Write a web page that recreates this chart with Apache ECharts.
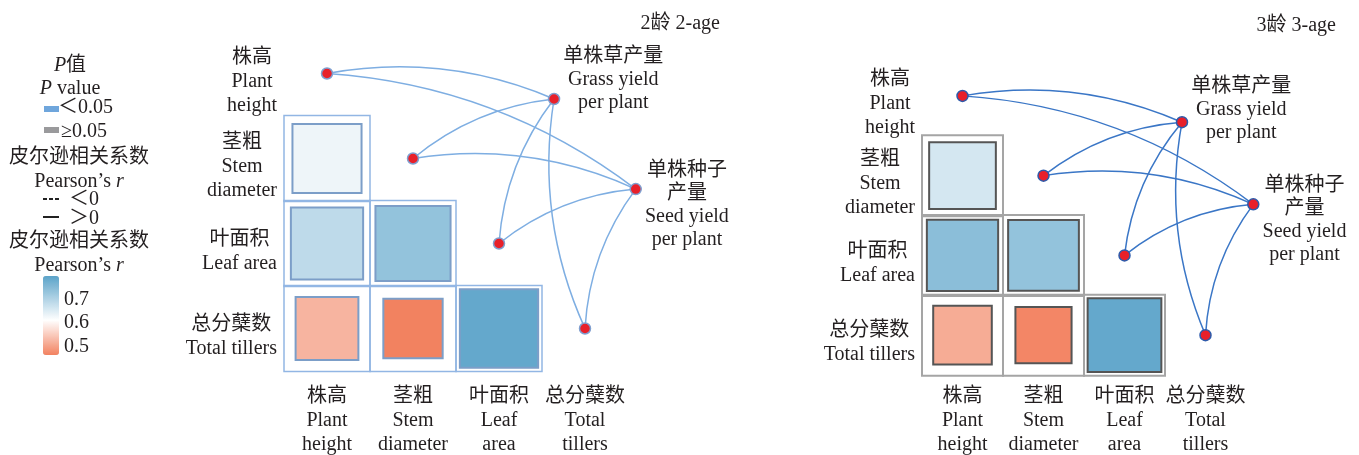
<!DOCTYPE html>
<html><head><meta charset="utf-8">
<script src="https://cdn.jsdelivr.net/npm/echarts/dist/echarts.min.js"></script>
<style>html,body{margin:0;padding:0;background:#fff}#c{width:1359px;height:455px}</style>
</head><body><div id="c"></div>
<script>
// ---- data ----
const rowLabels = ['株高\nPlant\nheight', '茎粗\nStem\ndiameter', '叶面积\nLeaf area', '总分蘖数\nTotal tillers'];
const colLabels = ['株高\nPlant\nheight', '茎粗\nStem\ndiameter', '叶面积\nLeaf\narea', '总分蘖数\nTotal\ntillers'];
const yieldLabels = ['单株草产量\nGrass yield\nper plant', '单株种子\n产量\nSeed yield\nper plant'];
const cellPairs = [[0, 1], [0, 2], [1, 2], [0, 3], [1, 3], [2, 3]]; // [column, row]
const r2age = [0.62, 0.675, 0.725, 0.51, 0.45, 0.78];
const r3age = [0.65, 0.735, 0.725, 0.50, 0.455, 0.78];
const yieldNodes2age = [[2.64, 0.30], [3.59, 1.36]];
const yieldNodes3age = [[2.71, 0.33], [3.59, 1.36]];
const colorTicks = [0.7, 0.6, 0.5];
const panelTitles = ['2龄 2-age', '3龄 3-age'];
const legendPLabels = ['＜0.05', '≥0.05'];
const legendRLabels = ['＜0', '＞0'];

// ---- styling ----
const FONT = '"Liberation Serif","Noto Sans CJK SC",serif';
const TXT = '#231f20';
const cMin = 0.45, cMax = 0.79, cMid = 0.6;
const RED = [242, 130, 96], WHITE = [255, 255, 255], BLUE = [91, 163, 201];
function mix(a, b, t) { return 'rgb(' + a.map((v, i) => Math.round(v + (b[i] - v) * t)).join(',') + ')'; }
const stops = [];
for (let i = 0; i <= 34; i++) {
  const v = cMin + (cMax - cMin) * i / 34;
  stops.push(v <= cMid ? mix(RED, WHITE, (v - cMin) / (cMid - cMin)) : mix(WHITE, BLUE, (v - cMid) / (cMax - cMid)));
}
const panels = [
  {left: 284, top: 31, size: 344, outer: '#92b6e4', outerW: 1.5, inner: '#7c9ec8', link: '#7eaee2', nodeBorder: '#7f9fd0', r: r2age, yn: yieldNodes2age, lblOff: [[0, -19], [0, 16]], xm: 14},
  {left: 922, top: 56, size: 324, outer: '#a5a5a5', outerW: 2, inner: '#555555', link: '#3a76c6', nodeBorder: '#2d5bab', r: r3age, yn: yieldNodes3age, lblOff: [[0, -12], [0, 16]], xm: 10}
];
function richLines(s) { return s.split('\n').map(t => '{c|' + t + '}').join('\n'); }
const richC = {c: {align: 'center', fontSize: 20, lineHeight: 24, fontFamily: FONT, color: TXT}};
const richY = {c: {align: 'center', fontSize: 20, lineHeight: 23, fontFamily: FONT, color: TXT}};

const grid = [], xAxis = [], yAxis = [], series = [];
panels.forEach((p, k) => {
  grid.push({left: p.left, top: p.top, width: p.size, height: p.size});
  xAxis.push({type: 'value', gridIndex: k, min: -0.5, max: 3.5, splitLine: {show: false}, axisLine: {show: false}, axisTick: {show: false},
    axisLabel: {customValues: [0, 1, 2, 3], margin: p.xm, formatter: v => richLines(colLabels[v]), rich: richC}});
  yAxis.push({type: 'value', gridIndex: k, min: -0.5, max: 3.5, inverse: true, splitLine: {show: false}, axisLine: {show: false}, axisTick: {show: false},
    axisLabel: {customValues: [0, 1, 2, 3], margin: 7, padding: [16, 0, 0, 0], formatter: v => richLines(rowLabels[v]), rich: richC}});
  const cell = p.size / 4;
  series.push({type: 'scatter', xAxisIndex: k, yAxisIndex: k, symbol: 'rect', symbolSize: cell, silent: true,
    itemStyle: {color: 'rgba(255,255,255,0)', borderColor: p.outer, borderWidth: p.outerW, opacity: 1},
    data: cellPairs.map(c => [c[0], c[1]]), z: 1});
  series.push({type: 'scatter', xAxisIndex: k, yAxisIndex: k, symbol: 'rect', silent: true,
    symbolSize: v => cell * (0.69 + 0.667 * (v[2] - 0.45)),
    itemStyle: {borderColor: p.inner, borderWidth: 2, opacity: 1},
    data: cellPairs.map((c, i) => [c[0], c[1], p.r[i]]), z: 2});
  const nodes = [0, 1, 2, 3].map(i => ({name: 'v' + i, value: [i, i]}));
  p.yn.forEach((pt, j) => nodes.push({name: 'y' + j, value: pt,
    label: {show: true, position: 'right', distance: 3, offset: p.lblOff[j], formatter: richLines(yieldLabels[j]), rich: richY}}));
  const links = [];
  [0, 1, 2, 3].forEach(i => { links.push({source: 'v' + i, target: 'y0'}); links.push({source: 'v' + i, target: 'y1'}); });
  series.push({type: 'graph', coordinateSystem: 'cartesian2d', xAxisIndex: k, yAxisIndex: k, layout: 'none', silent: true,
    symbolSize: 11, itemStyle: {color: '#e8202a', borderColor: p.nodeBorder, borderWidth: 1.5},
    lineStyle: {color: p.link, width: 1.5, opacity: 1, curveness: 0.15},
    label: {show: false}, data: nodes, links: links, z: 5});
});

// legend graphics
const lx = 79, dy = 3;
function T(text, x, y, align) {
  return {type: 'text', x: x, y: y + dy, silent: true,
    style: {text: text, font: '20px ' + FONT, fill: TXT, textAlign: align || 'center', textVerticalAlign: 'middle',
      rich: {i: {fontStyle: 'italic', fontSize: 20, fontFamily: FONT, color: TXT}}}};
}
const graphic = [
  T('{i|P}值', 70, 63), T('{i|P} value', 70, 86),
  {type: 'rect', shape: {x: 44, y: 106, width: 15, height: 6}, style: {fill: '#6fa6dc'}},
  T(legendPLabels[0], 58, 105, 'left'),
  {type: 'rect', shape: {x: 44, y: 127, width: 15, height: 6}, style: {fill: '#9a9a9c'}},
  T(legendPLabels[1], 61, 129, 'left'),
  T('皮尔逊相关系数', lx, 155), T('Pearson’s {i|r}', lx, 179),
  {type: 'line', shape: {x1: 43, y1: 199, x2: 59, y2: 199}, style: {stroke: '#222', lineWidth: 2, lineDash: [4, 2]}},
  T(legendRLabels[0], 69, 197, 'left'),
  {type: 'line', shape: {x1: 43, y1: 217, x2: 59, y2: 217}, style: {stroke: '#222', lineWidth: 2}},
  T(legendRLabels[1], 69, 216, 'left'),
  T('皮尔逊相关系数', lx, 239), T('Pearson’s {i|r}', lx, 263)
];
const barTop = 276, barH = 79;
colorTicks.forEach(v => graphic.push(T(String(v), 64, barTop + (cMax - v) / (cMax - cMin) * barH, 'left')));

const option = {
  animation: false,
  title: [
    {text: panelTitles[0], right: 1359 - 720 - 5, top: 9, textStyle: {fontFamily: FONT, fontSize: 20, fontWeight: 'normal', color: TXT}},
    {text: panelTitles[1], right: 1359 - 1336 - 5, top: 11, textStyle: {fontFamily: FONT, fontSize: 20, fontWeight: 'normal', color: TXT}}
  ],
  grid, xAxis, yAxis, series, graphic,
  visualMap: [{type: 'continuous', show: true, seriesIndex: [1, 4], dimension: 2, min: cMin, max: cMax, inRange: {color: stops},
    itemWidth: 16, itemHeight: barH, left: 43, top: barTop, padding: 0, calculable: false, orient: 'vertical'}]
};
const chart = echarts.init(document.getElementById('c'), null, {renderer: 'canvas'});
chart.setOption(option);
</script></body></html>
